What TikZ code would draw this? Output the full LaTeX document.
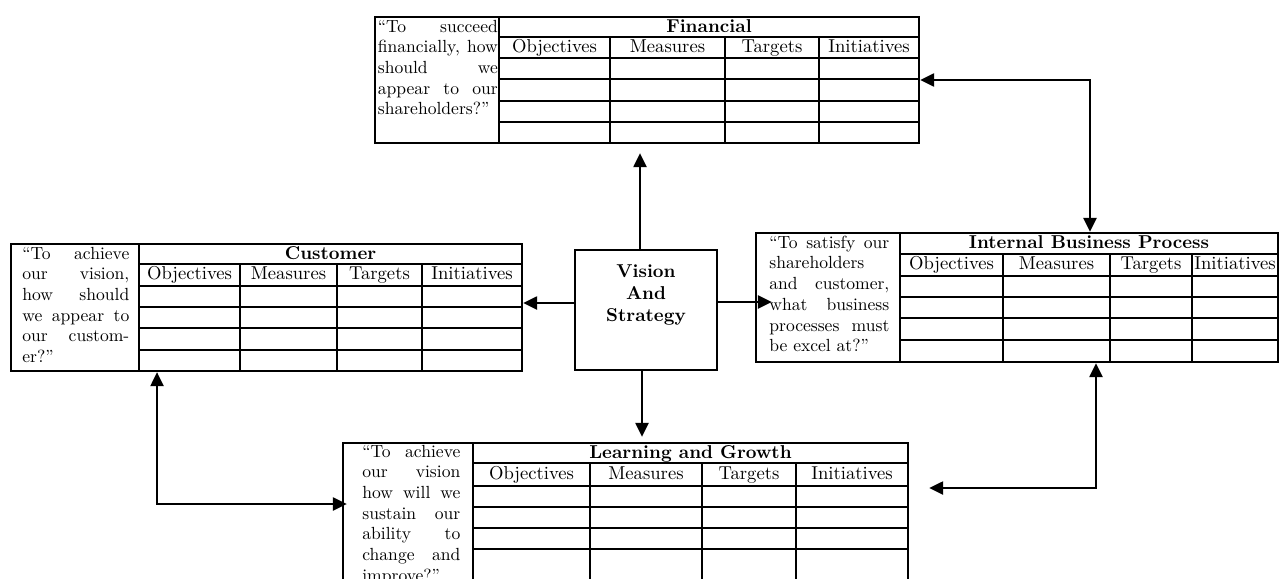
\documentclass[tikz,border=0pt]{standalone}
\usepackage{tikz}
\usetikzlibrary{arrows.meta,positioning,calc,fit}
\tolerance=9999
\hyphenpenalty=10000
\hbadness=10000

\begin{document}
\begin{tikzpicture}[x=0.02cm, y=-0.02cm,
  every node/.style={font=\fontsize{10}{11.8}\selectfont},
  card/.style={draw, line width=1.3pt, inner sep=0pt},
  tabline/.style={line width=1.3pt},
  question/.style={anchor=north west, align=justify, inner xsep=0pt, inner ysep=0.05cm},
  colhead/.style={font=\fontsize{10.6}{12}\selectfont, text height=7.2pt, text depth=2pt},
  heading/.style={font=\fontsize{10.6}{12}\selectfont\bfseries, text height=7.2pt, text depth=2pt},
  link/.style={line width=1.3pt, -{Triangle[length=0.28cm, width=0.26cm]}},
  bilink/.style={line width=1.3pt, {Triangle[length=0.28cm, width=0.26cm]}-{Triangle[length=0.28cm, width=0.26cm]}}]
  \useasboundingbox (0,0) rectangle (1280,578);
  \clip (0,0) rectangle (1280,578);

  % Financial
  \node[card, fit={(375,17) (919,143)}] (fin) {};
  \draw[tabline] (499,17) -- (499,143);
  \foreach \y in {37,58,79,101,122} \draw[tabline] (499,\y) -- (919,\y);
  \foreach \x in {610,725,819} \draw[tabline] (\x,37) -- (\x,143);
  \node[heading] (fin-title) at (709,27.5) {Financial};
  \foreach \lab/\xa/\xb [count=\i] in {Objectives/499/610, Measures/610/725, Targets/725/819, Initiatives/819/919}
    \node[colhead] (fin-h\i) at ({(\xa+\xb)/2},47.5) {\lab};
  \node[question, text width=2.4cm] (fin-q) at (377.5,17) {“To succeed\linebreak financially, how\linebreak should we\linebreak appear to our\linebreak shareholders?”};

  % Customer
  \node[card, fit={(11,244) (522,371)}] (cus) {};
  \draw[tabline] (139,244) -- (139,371);
  \foreach \y in {264,286,307,328,350} \draw[tabline] (139,\y) -- (522,\y);
  \foreach \x in {240,337,422} \draw[tabline] (\x,264) -- (\x,371);
  \node[heading] (cus-title) at (330.5,254.5) {Customer};
  \foreach \lab/\xa/\xb [count=\i] in {Objectives/139/240, Measures/240/337, Targets/337/422, Initiatives/422/522}
    \node[colhead] (cus-h\i) at ({(\xa+\xb)/2},275) {\lab};
  \node[question, text width=2.14cm] (cus-q) at (22,244) {“To achieve\linebreak our vision,\linebreak how should\linebreak we appear to\linebreak our custom-\linebreak er?”};

  % Internal Business Process
  \node[card, fit={(756,233) (1278,362)}] (ibp) {};
  \draw[tabline] (900,233) -- (900,362);
  \foreach \y in {254,276,297,318,340} \draw[tabline] (900,\y) -- (1278,\y);
  \foreach \x in {1003,1110,1192} \draw[tabline] (\x,254) -- (\x,362);
  \node[heading] (ibp-title) at (1089,244) {Internal Business Process};
  \foreach \lab/\xa/\xb [count=\i] in {Objectives/900/1003, Measures/1003/1110, Targets/1110/1192, Initiatives/1192/1278}
    \node[colhead] (ibp-h\i) at ({(\xa+\xb)/2},265) {\lab};
  \node[question, text width=2.4cm] (ibp-q) at (769,233) {“To satisfy our\linebreak shareholders\linebreak and customer,\linebreak what business\linebreak processes must\linebreak be excel at?”};

  % Learning and Growth
  \node[card, fit={(343,443) (908,600)}] (lg) {};
  \draw[tabline] (473,443) -- (473,600);
  \foreach \y in {463,486,507,528,549} \draw[tabline] (473,\y) -- (908,\y);
  \foreach \x in {590,702,796} \draw[tabline] (\x,463) -- (\x,600);
  \node[heading] (lg-title) at (690.5,453.5) {Learning and Growth};
  \foreach \lab/\xa/\xb [count=\i] in {Objectives/473/590, Measures/590/702, Targets/702/796, Initiatives/796/908}
    \node[colhead] (lg-h\i) at ({(\xa+\xb)/2},474.5) {\lab};
  \node[question, text width=1.96cm] (lg-q) at (362,442) {“To achieve\linebreak our vision\linebreak how will we\linebreak sustain our\linebreak ability to\linebreak change and\linebreak improve?”};

  % Vision and Strategy
  \node[card, fit={(575,250) (717,370)}] (vis) {};
  \node[font=\fontsize{10.6}{12.3}\selectfont\bfseries, align=center] (vis-label) at ($(vis.center)+(0,0.3cm)$) {Vision\\And\\Strategy};

  % links from the centre
  \draw[link, shorten >=0.18cm] ([xshift=-0.12cm]vis.north) -- ($(vis.north |- fin.south)+(-0.12cm,0)$);
  \draw[link, shorten >=0.1cm] ([xshift=-0.08cm]vis.south) -- ($(vis.south |- lg.north)+(-0.08cm,0)$);
  \draw[link] ([yshift=0.14cm]vis.west) -- ($(vis.west -| cus.east)+(0,0.14cm)$);
  \draw[link, shorten >=-0.34cm] ([yshift=0.16cm]vis.east) -- ($(vis.east -| ibp.west)+(0,0.16cm)$);

  % links between perspectives
  \draw[bilink] (fin.east) -| ([xshift=1.46cm]ibp.north);
  \draw[bilink, shorten >=-0.1cm] ([xshift=-2.19cm]cus.south) |- ([yshift=0.35cm]lg.west);
  \draw[bilink] ([xshift=1.58cm]ibp.south) |- ([xshift=0.4cm,yshift=0.67cm]lg.east);
\end{tikzpicture}
\end{document}
